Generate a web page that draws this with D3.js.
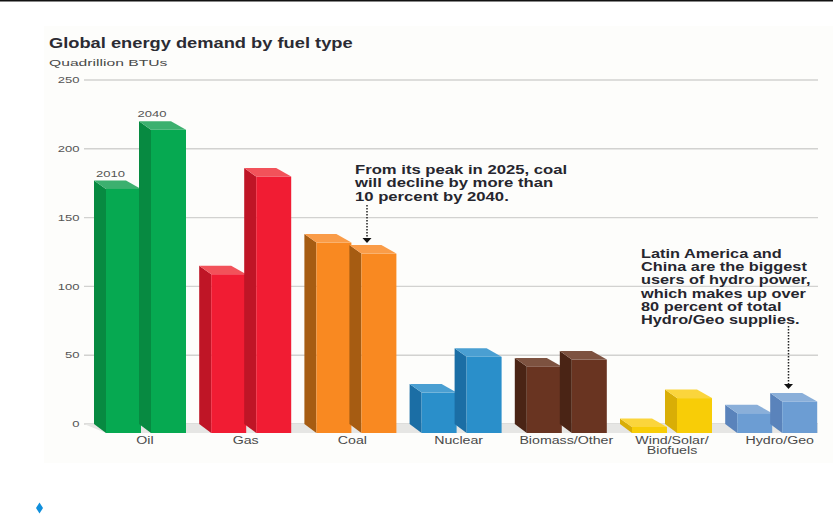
<!DOCTYPE html>
<html><head><meta charset="utf-8">
<style>html,body{margin:0;padding:0;background:#fff}svg{display:block}text{font-family:"Liberation Sans",Arial,sans-serif}</style>
<script src="https://cdnjs.cloudflare.com/ajax/libs/d3/7.8.5/d3.min.js"></script>
</head><body><svg id="c" width="833" height="523"></svg>
<script>
const categories=["Oil","Gas","Coal","Nuclear","Biomass/Other","Wind/Solar/Biofuels","Hydro/Geo"];
const years=["2010","2040"];
const values2010=[177,115,138,29,48,4,14];
const values2040=[220,186,130,55,53,25,22.5];
const frontColors=["#06a951","#f11c33","#f98921","#2a8fca","#693421","#f8cd07","#6c9dd3"];
const sideColors=["#078a41","#bf1526","#a65c12","#1b6ea5","#4a2415","#d9ae06","#5a83bb"];
const topColors=["#3cb06f","#f2525a","#fa9c48","#4a9fd2","#7d5240","#fbd53c","#8aafd9"];
const yTicks=[0,50,100,150,200,250];
const xLabels=[["Oil"],["Gas"],["Coal"],["Nuclear"],["Biomass/Other"],["Wind/Solar/","Biofuels"],["Hydro/Geo"]];
const labelNudge=[0,-4.5,-3,-2,0.5,1,3.5];
const note1=["From its peak in 2025, coal","will decline by more than","10 percent by 2040."];
const note2=["Latin America and","China are the biggest","users of hydro power,","which makes up over","80 percent of total","Hydro/Geo supplies."];

const svg=d3.select("#c");
const x=d3.scaleBand().domain(categories).range([94,94+7*105.2]);
const xs=d3.scaleOrdinal().domain(years).range([0,45]);
const y=d3.scaleLinear().domain([0,250]).range([424,80]);
const faceW=35,dx=12,dy=8.5;
const wide=(sel,px,py,sx)=>sel.attr("transform",`translate(${px},${py}) scale(${sx},1)`);

svg.append("rect").attr("x",0).attr("y",0).attr("width",833).attr("height",1.5).attr("fill","#111");
svg.append("rect").attr("x",44).attr("y",26).attr("width",789).attr("height",437).attr("fill","#fdfdfb");

wide(svg.append("text").attr("font-size",15.5).attr("font-weight","bold").attr("fill","#2b2b33").text("Global energy demand by fuel type"),49,48,1.18);
wide(svg.append("text").attr("font-size",9.8).attr("fill","#4a4a4a").text("Quadrillion BTUs"),49,65.5,1.6);

const yAxis=svg.append("g").selectAll("g").data(yTicks).join("g");
yAxis.append("line").attr("x1",84).attr("x2",818).attr("y1",d=>y(d)).attr("y2",d=>y(d)).attr("stroke","#d2d2d0").attr("stroke-width",1.4);
yAxis.append("text").attr("text-anchor","end").attr("font-size",9).attr("fill","#555").text(d=>d)
  .attr("transform",d=>`translate(79.5,${y(d)+3.2}) scale(1.45,1)`);

const floor=d3.line();
svg.append("path").attr("d",floor([[84,y(0)],[818,y(0)],[818,y(0)+dy+.5],[84+22,y(0)+dy+.5]])+"Z").attr("fill","#e6e6e4");

const bars=[];
categories.forEach((c,i)=>{
 years.forEach((yr,j)=>bars.push({c,i,yr,v:(j?values2040:values2010)[i]}));
});
const g=svg.append("g").selectAll("g").data(bars).join("g");
const base=y(0);
g.append("path").attr("fill",d=>sideColors[d.i]).attr("d",d=>{const a=x(d.c)+xs(d.yr);return floor([[a,y(d.v)],[a+dx,y(d.v)+dy],[a+dx,base+dy+.5],[a,base]])+"Z";});
g.append("path").attr("fill",d=>topColors[d.i]).attr("d",d=>{const a=x(d.c)+xs(d.yr);return floor([[a,y(d.v)],[a+faceW-3,y(d.v)],[a+dx+faceW,y(d.v)+dy],[a+dx,y(d.v)+dy]])+"Z";});
g.append("rect").attr("fill",d=>frontColors[d.i]).attr("x",d=>x(d.c)+xs(d.yr)+dx).attr("y",d=>y(d.v)+dy).attr("width",faceW).attr("height",d=>base+dy+.5-y(d.v)-dy);

const lab=svg.append("g").selectAll("text").data(categories).join("text").attr("text-anchor","middle").attr("font-size",10).attr("fill","#4a4a4a");
lab.attr("transform",(d,i)=>`translate(${x(d)+51+labelNudge[i]},444) scale(1.42,1)`);
lab.selectAll("tspan").data((d,i)=>xLabels[i]).join("tspan").attr("x",0).attr("dy",(d,i)=>i?10.5:0).text(d=>d);

wide(svg.append("text").attr("text-anchor","middle").attr("font-size",9).attr("fill","#555").text("2010"),x("Oil")+xs("2010")+16.5,y(values2010[0])-3,1.45);
wide(svg.append("text").attr("text-anchor","middle").attr("font-size",9).attr("fill","#555").text("2040"),x("Oil")+xs("2040")+13,y(values2040[0])-4,1.45);

function note(lines,xp,yp,lh,sx){const t=svg.append("text").attr("font-size",12).attr("font-weight","bold").attr("fill","#26262e").attr("transform",`translate(${xp},${yp}) scale(${sx},1)`);
 t.selectAll("tspan").data(lines).join("tspan").attr("x",0).attr("dy",(d,i)=>i?lh:0).text(d=>d);}
note(note1,355,174,13.3,1.39);
note(note2,641,258,13.2,1.36);

function arrow(ax,y1,y2){
 svg.append("line").attr("x1",ax).attr("x2",ax).attr("y1",y1).attr("y2",y2-5).attr("stroke","#222").attr("stroke-width",1.5).attr("stroke-dasharray","1.5 1.5");
 svg.append("path").attr("d",d3.line()([[ax-4.5,y2-5],[ax+4.5,y2-5],[ax,y2]])+"Z").attr("fill","#111");
}
arrow(367,205,243);
arrow(788.5,326,389);

svg.append("path").attr("transform","translate(39.5,508)").attr("d",d3.line()([[0,-5.5],[3.5,0],[0,5.5],[-3.5,0]])+"Z").attr("fill","#0f8fdc");
</script></body></html>
